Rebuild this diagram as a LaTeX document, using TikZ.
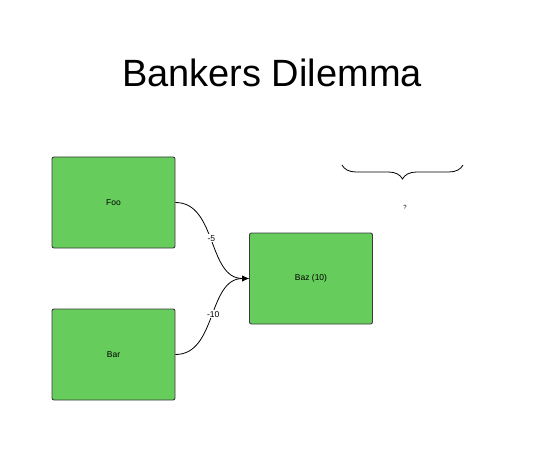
\documentclass[tikz,border=0pt]{standalone}
\usepackage{fontspec}
\setmainfont{Liberation Sans}
\usetikzlibrary{arrows.meta,decorations.pathreplacing}
\definecolor{boxgreen}{RGB}{102,204,92}
\definecolor{boxline}{RGB}{60,60,60}
\tikzset{
  statebox/.style={draw=boxline,fill=boxgreen,line width=0.9pt,rounded corners=2pt,
    minimum width=123pt,minimum height=91pt,font=\fontsize{8.5}{10}\selectfont},
  weight/.style={fill=white,inner sep=1pt,font=\fontsize{8.5}{10}\selectfont}
}
\begin{document}
\begin{tikzpicture}[x=1pt,y=-1pt]
  \useasboundingbox (0,0) rectangle (540,457);
  \node (title) at (272,73) {\fontsize{38}{44}\selectfont Bankers Dilemma};

  \node[statebox] (foo) at (113.5,202.5) {Foo};
  \node[statebox] (bar) at (113.5,354.5) {Bar};
  \node[statebox] (baz) at (311,278.5) {Baz (10)};

  \draw[-{Latex[length=7pt,width=6pt]},line width=0.8pt] (foo.east) to[out=0,in=180]
    node[weight,pos=0.48] {-5} (baz.west);
  \draw[-{Latex[length=7pt,width=6pt]},line width=0.8pt] (bar.east) to[out=0,in=180]
    node[weight,pos=0.52] {-10} (baz.west);

  \coordinate (bl) at (342,165);
  \coordinate (br) at (463,165);
  \draw[line width=0.8pt,decorate,decoration={brace,mirror,amplitude=14pt}] (bl) -- (br);
  \node[font=\fontsize{6}{7}\selectfont] (ask) at (405,207) {?};
\end{tikzpicture}
\end{document}
